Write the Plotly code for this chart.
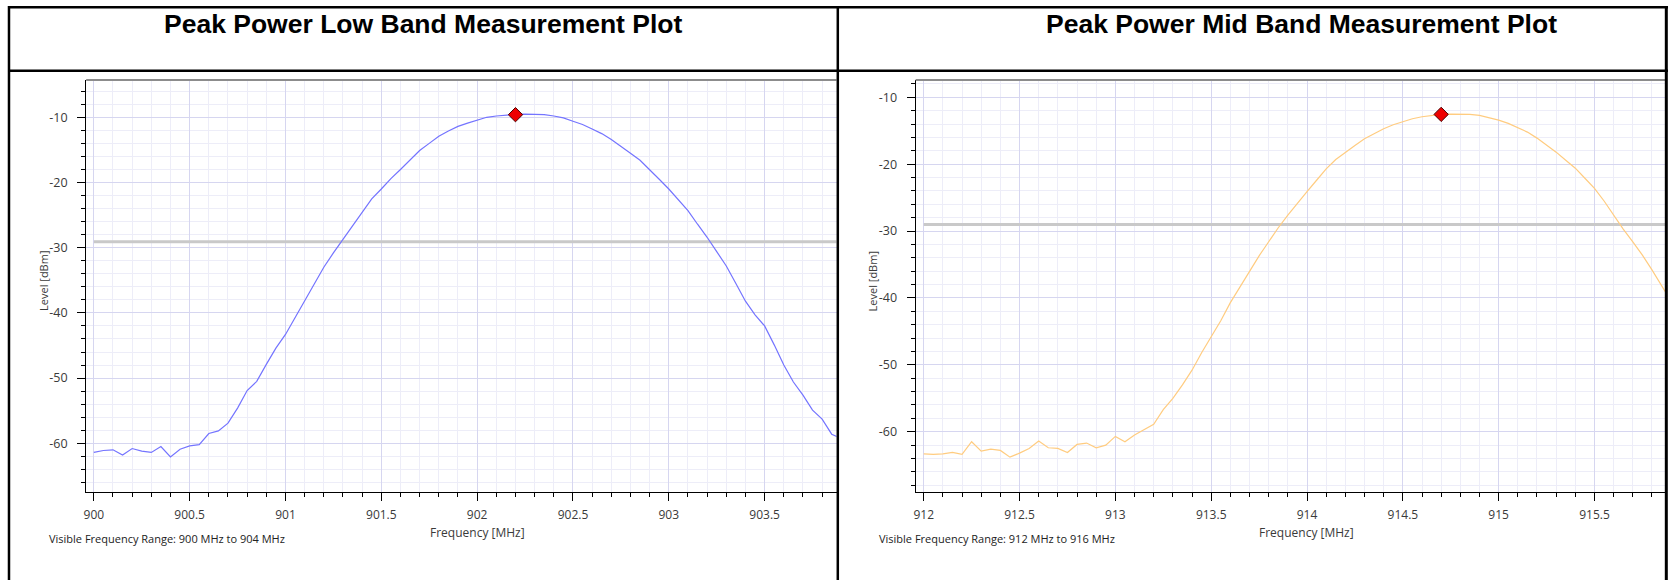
import plotly.graph_objects as go

# ---------------- data ----------------
LOW_START, MID_START, STEP = 900.0, 912.0, 0.05

low_levels = [
    -61.4, -61.1, -61.0, -61.8, -60.8, -61.2, -61.4, -60.5, -62.1, -60.9,
    -60.4, -60.2, -58.5, -58.1, -56.9, -54.6, -51.9, -50.5, -47.9, -45.4,
    -43.3, -40.7, -38.0, -35.4, -33.0, -30.8, -28.7, -26.5, -24.4, -22.5,
    -21.0, -19.4, -18.0, -16.6, -15.1, -14.0, -12.9, -12.1, -11.4, -10.9,
    -10.4, -10.0, -9.8, -9.65, -9.55, -9.5, -9.5, -9.6, -9.8, -10.1,
    -10.6, -11.1, -11.8, -12.5, -13.4, -14.4, -15.5, -16.6, -18.0, -19.5,
    -21.0, -22.6, -24.3, -26.4, -28.4, -30.6, -32.8, -35.5, -38.2, -40.3,
    -42.0, -44.9, -48.0, -50.6, -52.6, -54.9, -56.3, -58.6, -59.3,
]
mid_levels = [
    -63.3, -63.4, -63.3, -63.1, -63.4, -61.5, -62.9, -62.6, -62.8, -63.8,
    -63.2, -62.5, -61.4, -62.4, -62.5, -63.1, -61.9, -61.7, -62.4, -62.0,
    -60.7, -61.5, -60.5, -59.7, -58.9, -56.7, -55.0, -53.0, -50.8, -48.2,
    -45.8, -43.4, -40.7, -38.3, -36.0, -33.7, -31.6, -29.5, -27.6, -25.8,
    -24.1, -22.4, -20.7, -19.3, -18.2, -17.2, -16.2, -15.4, -14.7, -14.1,
    -13.6, -13.2, -12.9, -12.7, -12.55, -12.5, -12.5, -12.55, -12.7, -13.0,
    -13.4, -13.9, -14.5, -15.2, -16.1, -17.1, -18.2, -19.4, -20.6, -22.1,
    -23.6, -25.5, -27.6, -29.7, -31.6, -33.6, -35.8, -38.2, -40.5,
]
low_freq = [round(LOW_START + i * STEP, 2) for i in range(len(low_levels))]
mid_freq = [round(MID_START + i * STEP, 2) for i in range(len(mid_levels))]

low_peak = (902.2, -9.6)
mid_peak = (914.7, -12.55)
low_limit = -29.1
mid_limit = -29.0

titles = ["Peak Power Low Band Measurement Plot", "Peak Power Mid Band Measurement Plot"]
range_texts = ["Visible Frequency Range: 900 MHz to 904 MHz",
               "Visible Frequency Range: 912 MHz to 916 MHz"]
y_tickvals = [-10, -20, -30, -40, -50, -60]
y_ticktext = ["-10", "-20", "-30", "-40", "-50", "-60"]

# ---------------- layout helpers ----------------
W, H = 1673, 580
def px(x):
    return x / W
def py(y):
    return 1 - y / H

BLUE = "#7474ff"
ORANGE = "#ffcc80"
GRID = "#d6d6f0"
MINOR = "#ededf8"
FONT = "Open Sans"

fig = go.Figure()

# threshold lines (behind curves)
fig.add_trace(go.Scatter(x=[low_freq[0], low_freq[-1] + 1], y=[low_limit, low_limit],
                         mode="lines", line=dict(color="#c9c9c9", width=3),
                         xaxis="x", yaxis="y", hoverinfo="skip"))
fig.add_trace(go.Scatter(x=[mid_freq[0], mid_freq[-1] + 1], y=[mid_limit, mid_limit],
                         mode="lines", line=dict(color="#c9c9c9", width=3),
                         xaxis="x2", yaxis="y2", hoverinfo="skip"))
# curves
fig.add_trace(go.Scatter(x=low_freq, y=low_levels, mode="lines",
                         line=dict(color=BLUE, width=1.2), xaxis="x", yaxis="y"))
fig.add_trace(go.Scatter(x=mid_freq, y=mid_levels, mode="lines",
                         line=dict(color=ORANGE, width=1.2), xaxis="x2", yaxis="y2"))
# peak markers
fig.add_trace(go.Scatter(x=[low_peak[0]], y=[low_peak[1]], mode="markers",
                         marker=dict(symbol="diamond", size=11, color="#ee0000",
                                     line=dict(color="#4a0000", width=1)),
                         xaxis="x", yaxis="y", cliponaxis=False))
fig.add_trace(go.Scatter(x=[mid_peak[0]], y=[mid_peak[1]], mode="markers",
                         marker=dict(symbol="diamond", size=11, color="#ee0000",
                                     line=dict(color="#4a0000", width=1)),
                         xaxis="x2", yaxis="y2", cliponaxis=False))

def xaxis_cfg(domain, rng, tick0, anchor):
    return dict(domain=domain, range=rng, anchor=anchor, tick0=tick0, dtick=0.5,
                tickmode="linear",
                ticks="outside", ticklen=8, tickwidth=1, tickcolor="#000",
                showline=True, linecolor="#000", linewidth=1.2,
                showgrid=True, gridcolor=GRID, gridwidth=1, zeroline=False,
                tickfont=dict(family=FONT, size=12, color="#3a3a3a"),
                ticklabelstandoff=4, fixedrange=True,
                minor=dict(dtick=0.1, tick0=tick0, ticks="outside", ticklen=4,
                           tickcolor="#000", tickwidth=1, showgrid=True,
                           gridcolor=MINOR, gridwidth=1))

def yaxis_cfg(domain, rng, anchor):
    return dict(domain=domain, range=rng, anchor=anchor, tickmode="array",
                tickvals=y_tickvals, ticktext=y_ticktext,
                ticks="outside", ticklen=8, tickwidth=1, tickcolor="#000",
                showline=True, linecolor="#000", linewidth=1.2,
                showgrid=True, gridcolor=GRID, gridwidth=1, zeroline=False,
                tickfont=dict(family=FONT, size=12.5, color="#3a3a3a"),
                ticklabelstandoff=7, fixedrange=True,
                minor=dict(dtick=2, tick0=0, ticks="outside", ticklen=4,
                           tickcolor="#000", tickwidth=1, showgrid=True,
                           gridcolor=MINOR, gridwidth=1))

ydom = [py(491.7), py(80)]
fig.update_layout(
    width=W, height=H, margin=dict(l=0, r=0, t=0, b=0),
    paper_bgcolor="white", plot_bgcolor="white", showlegend=False,
    xaxis=xaxis_cfg([px(83.3), px(835)], [899.960, 903.875], 900, "y"),
    yaxis=yaxis_cfg(ydom, [-67.42, -4.28], "x"),
    xaxis2=xaxis_cfg([px(914.3), px(1665)], [911.958, 915.868], 912, "y2"),
    yaxis2=yaxis_cfg(ydom, [-68.97, -7.41], "x2"),
)

ann = []
for tx, cx in zip(titles, [421, 1301]):
    ann.append(dict(text="<b>%s</b>" % tx, x=px(cx), y=py(23.5), xref="paper", yref="paper",
                    showarrow=False, xanchor="center", yanchor="middle",
                    font=dict(family="Liberation Sans, Arial", size=26.5, color="#000")))
for cx in [475, 1306]:
    ann.append(dict(text="Frequency [MHz]", x=px(cx), y=py(532), xref="paper", yref="paper",
                    showarrow=False, xanchor="center", yanchor="middle",
                    font=dict(family=FONT, size=12, color="#3a3a3a")))
for tx, lx in zip(range_texts, [44, 876]):
    ann.append(dict(text=tx, x=px(lx), y=py(538), xref="paper", yref="paper",
                    showarrow=False, xanchor="left", yanchor="middle",
                    font=dict(family=FONT, size=11, color="#222")))
for cx in [40, 871]:
    ann.append(dict(text="Level [dBm]", x=px(cx), y=py(281), xref="paper", yref="paper",
                    showarrow=False, xanchor="center", yanchor="middle", textangle=-90,
                    font=dict(family=FONT, size=11, color="#3a3a3a")))
fig.update_layout(annotations=ann)

shapes = []
def hline(y, x0, x1, color="#000", w=2.5):
    shapes.append(dict(type="line", xref="paper", yref="paper", x0=px(x0), x1=px(x1),
                       y0=py(y), y1=py(y), line=dict(color=color, width=w)))
def vline(x, y0, y1, color="#000", w=2.5):
    shapes.append(dict(type="line", xref="paper", yref="paper", x0=px(x), x1=px(x),
                       y0=py(y0), y1=py(y1), line=dict(color=color, width=w)))
# gray top borders of plot areas
hline(80, 83.3, 835, "#8c8c8c", 2)
hline(80, 914.3, 1665, "#8c8c8c", 2)
# table borders
hline(7.3, 5, 1668)
hline(70.7, 5, 1668)
vline(6, 6, 580)
vline(836.3, 6, 580)
vline(1666.3, 6, 580, w=3)
fig.update_layout(shapes=shapes)

fig.write_html("out.html", config={"displayModeBar": False},
               post_script="document.body.style.margin='0';document.body.style.padding='0';document.body.style.overflow='hidden';")
